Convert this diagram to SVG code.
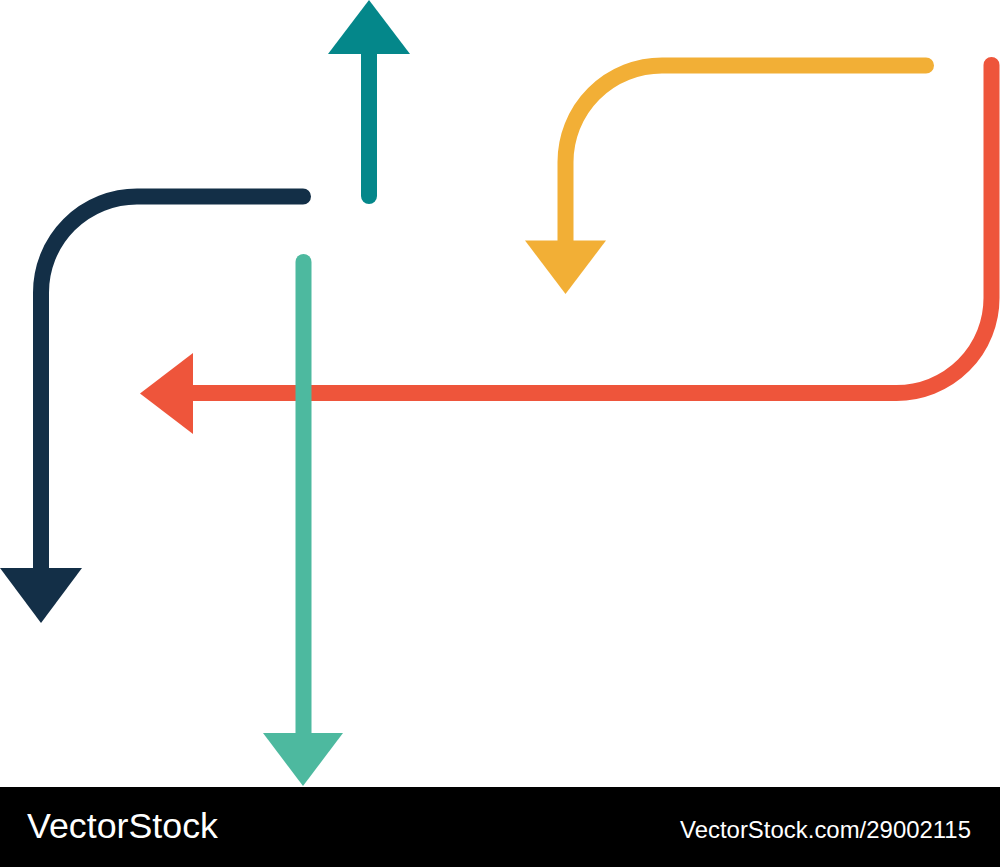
<svg xmlns="http://www.w3.org/2000/svg" width="1000" height="867" viewBox="0 0 1000 867">
  <style>
    .ln { fill: none; stroke-width: 16; stroke-linecap: round; stroke-linejoin: round; }
    .wm { fill: #ffffff; font-family: "Liberation Sans", Arial, sans-serif; }
  </style>
  <rect x="0" y="0" width="1000" height="867" fill="#ffffff"/>
  <g id="arrow-teal-up">
    <path class="ln" stroke="#04878A" d="M369 196 V50"/>
    <polygon fill="#04878A" points="369,0 410,54 328,54"/>
  </g>
  <g id="arrow-navy">
    <path class="ln" stroke="#132F47" d="M303 196.5 H137 A96 96 0 0 0 41 292.5 V572"/>
    <polygon fill="#132F47" points="0,568 82,568 41,623"/>
  </g>
  <g id="arrow-yellow">
    <path class="ln" stroke="#F2AF36" d="M926 65.5 H662 A96.5 96.5 0 0 0 565.5 162 V244"/>
    <polygon fill="#F2AF36" points="525,240.5 606,240.5 565.5,294"/>
  </g>
  <g id="arrow-red">
    <path class="ln" stroke="#EE553B" d="M991.5 65 V298 A95 95 0 0 1 896.5 393 H188"/>
    <polygon fill="#EE553B" points="140,393.5 193,353 193,434"/>
  </g>
  <g id="arrow-lightteal">
    <path class="ln" stroke="#4DB99F" d="M303.5 262 V737"/>
    <polygon fill="#4DB99F" points="263,733 343,733 303,786"/>
  </g>
  <g id="banner">
    <rect x="0" y="787" width="1000" height="80" fill="#000000"/>
    <text class="wm" x="27" y="838" font-size="35" textLength="191" lengthAdjust="spacingAndGlyphs">VectorStock</text>
    <text class="wm" x="680" y="838" font-size="24" textLength="291" lengthAdjust="spacingAndGlyphs">VectorStock.com/29002115</text>
  </g>
</svg>
